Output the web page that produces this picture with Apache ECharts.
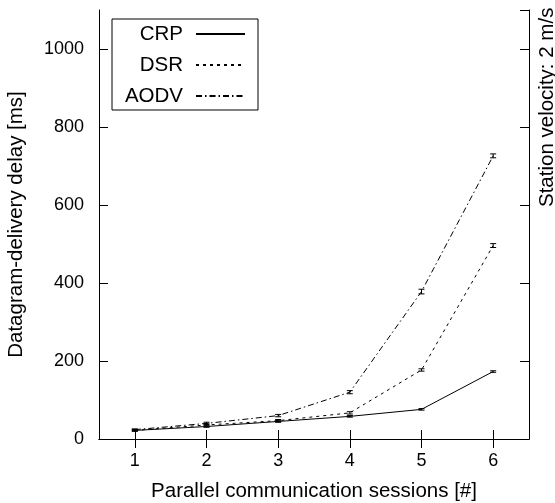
<!DOCTYPE html>
<html>
<head>
<meta charset="utf-8">
<script src="https://cdn.jsdelivr.net/npm/echarts@6/dist/echarts.min.js"></script>
<style>html,body{margin:0;padding:0;background:#fff;}#c{width:555px;height:503px;}</style>
</head>
<body>
<div id="c"></div>
<script>
var categories = ['1', '2', '3', '4', '5', '6'];
var yTicks = [0, 200, 400, 600, 800, 1000];
var crp = [22, 32, 45, 58, 76, 173];
var crpErr = [2, 2, 2, 2, 2, 2];
var dsr = [22, 36, 47, 67, 177, 496];
var dsrErr = [2, 3, 3, 3, 3, 5];
var aodv = [24, 40, 60, 120, 378, 726];
var aodvErr = [2, 3, 3, 4, 6, 5];
var xName = 'Parallel communication sessions [#]';
var yName = 'Datagram-delivery delay [ms]';
var sideLabel = 'Station velocity: 2 m/s';

var FONT = 'Liberation Sans, Arial, Helvetica, sans-serif';
var TITLE_SIZE = 20.5;
var TICK_SIZE = 18;

function errData(vals, errs) {
  return vals.map(function (v, i) { return [i, v, errs[i]]; });
}
function errRender() {
  return function (params, api) {
    var x = api.value(0), y = api.value(1), e = api.value(2);
    var hi = api.coord([x, y + e]);
    var lo = api.coord([x, y - e]);
    var hw = 3;
    var st = { stroke: '#000', lineWidth: 1 };
    return {
      type: 'group',
      children: [
        { type: 'line', shape: { x1: hi[0], y1: hi[1], x2: lo[0], y2: lo[1] }, style: st },
        { type: 'line', shape: { x1: hi[0] - hw, y1: hi[1], x2: hi[0] + hw, y2: hi[1] }, style: st },
        { type: 'line', shape: { x1: lo[0] - hw, y1: lo[1], x2: lo[0] + hw, y2: lo[1] }, style: st }
      ]
    };
  };
}

var chart = echarts.init(document.getElementById('c'), null, { renderer: 'canvas' });
var axisLine = { show: true, lineStyle: { color: '#000', width: 1 } };
var tick = { show: true, inside: true, length: 9, lineStyle: { color: '#000', width: 1 } };

function legendFor(name, top) {
  return {
    data: [name],
    right: 309,
    top: top,
    align: 'right',
    orient: 'vertical',
    itemWidth: 49,
    itemHeight: 20,
    padding: 0,
    selectedMode: false,
    itemStyle: { opacity: 0 },
    textStyle: { fontFamily: FONT, fontSize: TITLE_SIZE, color: '#000', lineHeight: 22, padding: [0, 8, 0, 0] }
  };
}

var option = {
  animation: false,
  backgroundColor: '#fff',
  textStyle: { fontFamily: FONT },
  grid: { left: 99, top: 10, right: 26, bottom: 64, outerBoundsMode: 'none', containLabel: false },
  legend: [legendFor('CRP', 23), legendFor('DSR', 54), legendFor('AODV', 85)],
  graphic: [
    { type: 'rect', shape: { x: 112, y: 19, width: 146, height: 91 }, style: { fill: 'rgba(0,0,0,0)', stroke: '#000', lineWidth: 1 }, z: 100 },
    { type: 'text', x: 547, y: 207, rotation: Math.PI / 2,
      style: { text: sideLabel, font: TITLE_SIZE + 'px ' + FONT, fill: '#000', textAlign: 'left', textVerticalAlign: 'middle' } }
  ],
  xAxis: [
    {
      type: 'category', data: categories, boundaryGap: true, position: 'bottom',
      axisLine: axisLine, axisTick: Object.assign({ alignWithLabel: true }, tick),
      axisLabel: { color: '#000', fontSize: TICK_SIZE, fontFamily: FONT, margin: 13 },
      splitLine: { show: false },
      name: xName, nameLocation: 'middle', nameGap: 42,
      nameTextStyle: { color: '#000', fontSize: TITLE_SIZE, fontFamily: FONT }
    },
    {
      type: 'category', data: categories, boundaryGap: true, position: 'top',
      axisLine: axisLine, axisTick: Object.assign({ alignWithLabel: true }, tick),
      axisLabel: { show: false }, splitLine: { show: false }
    }
  ],
  yAxis: [
    {
      type: 'value', min: 0, max: 1100, interval: 200, position: 'left',
      axisLine: axisLine, axisTick: tick,
      axisLabel: { color: '#000', fontSize: TICK_SIZE, fontFamily: FONT, margin: 15, showMaxLabel: false,
        formatter: function (v) { return yTicks.indexOf(v) >= 0 ? String(v) : ''; } },
      splitLine: { show: false },
      name: yName, nameLocation: 'middle', nameGap: 72,
      nameTextStyle: { color: '#000', fontSize: TITLE_SIZE, fontFamily: FONT }
    },
    {
      type: 'value', min: 0, max: 1100, interval: 200, position: 'right',
      axisLine: axisLine, axisTick: tick,
      axisLabel: { show: false }, splitLine: { show: false }
    }
  ],
  series: [
    { name: 'CRP', type: 'line', data: crp, symbol: 'none', lineStyle: { color: '#000', width: 1, type: 'solid' }, itemStyle: { color: '#000' } },
    { name: 'DSR', type: 'line', data: dsr, symbol: 'none', lineStyle: { color: '#000', width: 1, type: [3, 4] }, itemStyle: { color: '#000' } },
    { name: 'AODV', type: 'line', data: aodv, symbol: 'none', lineStyle: { color: '#000', width: 1, type: [6, 3, 1.5, 3] }, itemStyle: { color: '#000' } },
    { name: 'CRP', type: 'custom', data: errData(crp, crpErr), renderItem: errRender(), z: 3 },
    { name: 'DSR', type: 'custom', data: errData(dsr, dsrErr), renderItem: errRender(), z: 3 },
    { name: 'AODV', type: 'custom', data: errData(aodv, aodvErr), renderItem: errRender(), z: 3 }
  ]
};
chart.setOption(option);
</script>
</body>
</html>
